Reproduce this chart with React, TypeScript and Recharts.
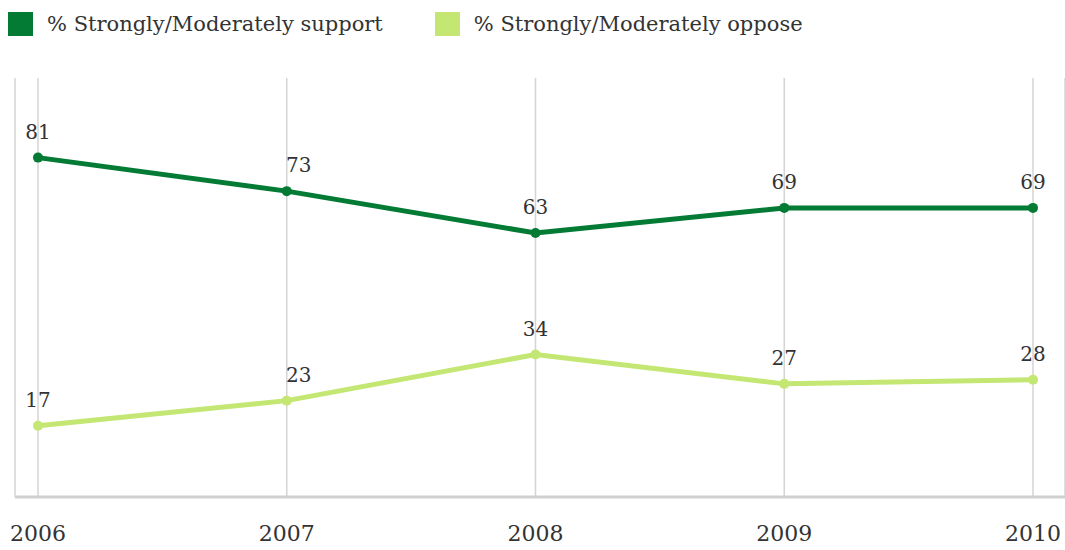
import React from 'react';
import { LineChart, Line, XAxis, YAxis, CartesianGrid, LabelList } from 'recharts';

const years = ['2006', '2007', '2008', '2009', '2010'];
const supportValues = [81, 73, 63, 69, 69];
const opposeValues = [17, 23, 34, 27, 28];
const seriesNames = ['% Strongly/Moderately support', '% Strongly/Moderately oppose'];
const seriesColors = ['#037b35', '#c3e772'];

const data = years.map((year, i) => ({
  year,
  support: supportValues[i],
  oppose: opposeValues[i],
}));

const FONT = 'DejaVu Serif';

const renderLabel = (props: any) => {
  const { x, y, value, index } = props;
  const shift = index === 1 ? 12 : 0;
  return (
    <text
      x={Number(x) + shift}
      y={Number(y) - 19}
      textAnchor="middle"
      fontFamily={FONT}
      fontSize={20}
      fill="#333"
    >
      {value}
    </text>
  );
};

export default function App() {
  return (
    <div style={{ position: 'relative', width: 1065, height: 550, background: '#fff' }}>
      <style>{'body{margin:0}'}</style>
      <div
        style={{
          position: 'absolute',
          left: 8,
          top: 12,
          display: 'flex',
          alignItems: 'center',
          fontFamily: FONT,
          fontSize: 21,
          color: '#333',
          zIndex: 2,
        }}
      >
        {seriesNames.map((name, i) => (
          <div key={name} style={{ display: 'flex', alignItems: 'center', marginRight: 52 }}>
            <span
              style={{
                display: 'inline-block',
                width: 25,
                height: 24,
                background: seriesColors[i],
                marginRight: 14,
              }}
            />
            <span style={{ lineHeight: '24px' }}>{name}</span>
          </div>
        ))}
      </div>
      <LineChart
        width={1065}
        height={550}
        data={data}
        margin={{ top: 78, right: 0, bottom: 23, left: 15 }}
      >
        <CartesianGrid horizontal={false} stroke="#d4d4d4" strokeWidth={1.5} />
        <XAxis
          dataKey="year"
          padding={{ left: 23, right: 32 }}
          tickLine={false}
          tickSize={0}
          tickMargin={28}
          axisLine={{ stroke: '#d0d0d0', strokeWidth: 3 }}
          tick={{ fontFamily: FONT, fontSize: 22, fill: '#333' }}
          height={30}
        />
        <YAxis hide domain={[0, 100]} />
        <Line
          type="linear"
          dataKey="support"
          stroke={seriesColors[0]}
          strokeWidth={5}
          dot={{ r: 5, fill: seriesColors[0], stroke: 'none' }}
          isAnimationActive={false}
        >
          <LabelList dataKey="support" content={renderLabel} />
        </Line>
        <Line
          type="linear"
          dataKey="oppose"
          stroke={seriesColors[1]}
          strokeWidth={5}
          dot={{ r: 5, fill: seriesColors[1], stroke: 'none' }}
          isAnimationActive={false}
        >
          <LabelList dataKey="oppose" content={renderLabel} />
        </Line>
      </LineChart>
    </div>
  );
}
